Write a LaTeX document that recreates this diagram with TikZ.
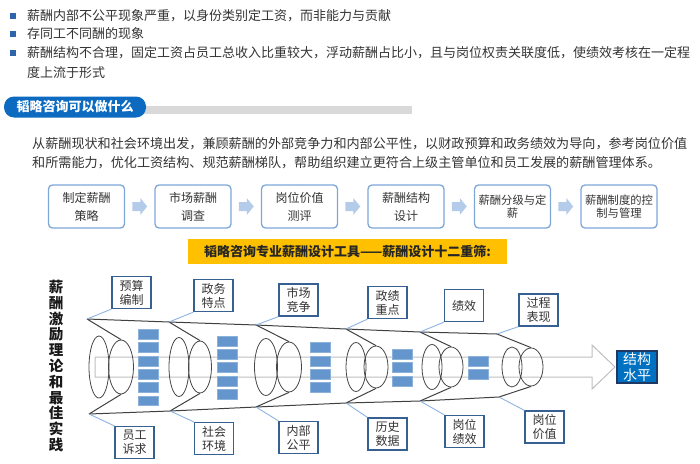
\documentclass[tikz,border=0pt]{standalone}
\usepackage{fontspec}
\setmainfont{Noto Sans CJK SC}
\usetikzlibrary{calc,shapes.geometric}
\definecolor{txtgray}{RGB}{51,51,51}
\definecolor{bulblue}{RGB}{46,100,170}
\definecolor{capblue}{RGB}{12,106,192}
\definecolor{barGray}{RGB}{217,217,217}
\definecolor{pborder}{RGB}{126,166,216}
\definecolor{parrow}{RGB}{180,203,234}
\definecolor{banner}{RGB}{255,192,0}
\definecolor{funnel}{RGB}{64,64,64}
\definecolor{ellc}{RGB}{70,70,70}
\definecolor{arrgray}{RGB}{191,191,191}
\definecolor{blkfill}{RGB}{100,150,205}
\definecolor{blkdraw}{RGB}{140,178,220}
\definecolor{lblue}{RGB}{55,96,146}
\definecolor{conn}{RGB}{141,179,226}
\definecolor{resfill}{RGB}{0,112,192}
\definecolor{resdraw}{RGB}{31,56,100}
\begin{document}
\begin{tikzpicture}[x=1pt,y=-1pt,
  bul/.style={fill=bulblue,minimum size=5.5pt,inner sep=0pt},
  ltxt/.style={anchor=west,inner sep=0pt,text=txtgray,font=\fontsize{13.0}{16}\selectfont},
  ptxt/.style={anchor=west,inner sep=0pt,text=txtgray,font=\fontsize{13.1}{16}\selectfont},
  pbox/.style={draw=pborder,line width=1.3pt,rounded corners=4pt,minimum width=76pt,minimum height=43pt,inner sep=0pt,align=center,text=txtgray,font=\fontsize{12}{18}\selectfont},
  pboxb/.style={pbox,font=\fontsize{11.3}{12.5}\selectfont},
  ell/.style={ellipse,draw=ellc,line width=0.8pt,inner sep=0pt},
  fline/.style={draw=funnel,line width=1pt},
  blk/.style={fill=blkfill,draw=blkdraw,line width=0.4pt,minimum width=20pt,minimum height=9.8pt,inner sep=0pt},
  lbl/.style={draw=lblue,line width=1.3pt,fill=white,minimum width=39pt,minimum height=32pt,inner sep=0pt,align=center,text=txtgray,font=\fontsize{12}{14}\selectfont},
  cline/.style={draw=conn,line width=0.9pt}]
\useasboundingbox (0,0) rectangle (700,463);

% bullets
\node[bul] (b1) at (13,16) {};
\node[bul] (b2) at (13,34) {};
\node[bul] (b3) at (13,53) {};
\node[ltxt] (t1) at (27,16) {薪酬内部不公平现象严重，以身份类别定工资，而非能力与贡献};
\node[ltxt] (t2) at (27,34) {存同工不同酬的现象};
\node[ltxt] (t3) at (27,53) {薪酬结构不合理，固定工资占员工总收入比重较大，浮动薪酬占比小，且与岗位权责关联度低，使绩效考核在一定程};
\node[ltxt] (t4) at (27,73) {度上流于形式};

% heading capsule
\fill[barGray] (140,105.5) rectangle (412,113.5);
\node[fill=capblue,rounded corners=10pt,minimum width=142pt,minimum height=21pt,inner sep=0pt,text=white,font=\fontsize{13}{15}\selectfont\bfseries] (cap) at (75,107) {韬略咨询可以做什么};

% paragraph
\node[ptxt] (pa1) at (32,144) {从薪酬现状和社会环境出发，兼顾薪酬的外部竞争力和内部公平性，以财政预算和政务绩效为导向，参考岗位价值};
\node[ptxt] (pa2) at (32,163) {和所需能力，优化工资结构、规范薪酬梯队，帮助组织建立更符合上级主管单位和员工发展的薪酬管理体系。};

% process boxes
\node[pbox] (p1) at (86.5,206.5) {制定薪酬\\策略};
\node[pbox] (p2) at (193,206.5) {市场薪酬\\调查};
\node[pbox] (p3) at (299.5,206.5) {岗位价值\\测评};
\node[pbox] (p4) at (406,206.5) {薪酬结构\\设计};
\node[pboxb] (p5) at (512.5,206.5) {薪酬分级与定\\薪};
\node[pboxb] (p6) at (619,206.5) {薪酬制度的控\\制与管理};
\foreach \a/\b in {p1/p2,p2/p3,p3/p4,p4/p5,p5/p6}{
  \coordinate (m\a) at ($(\a.east)!0.5!(\b.west)$);
  \fill[parrow] ($(m\a)+(-7.5,-4.5)$) -- ($(m\a)+(0.5,-4.5)$) -- ($(m\a)+(0.5,-8.5)$) -- ($(m\a)+(7.5,0)$) -- ($(m\a)+(0.5,8.5)$) -- ($(m\a)+(0.5,4.5)$) -- ($(m\a)+(-7.5,4.5)$) -- cycle;
}

% banner
\node[fill=banner,minimum width=319pt,minimum height=25pt,inner sep=0pt,text=black!85,font=\fontsize{13}{15}\selectfont\bfseries] (ban) at (347.5,251.5) {韬略咨询专业薪酬设计工具——薪酬设计十二重筛:};

% vertical text
\node[inner sep=0pt,align=center,text=black!90,font=\fontsize{14.5}{15.8}\selectfont\bfseries] (vt) at (56,366) {薪\\酬\\激\\励\\理\\论\\和\\最\\佳\\实\\践};

% big arrow
\draw[arrgray,line width=1pt] (95,357) -- (592,357) -- (592,345) -- (615,367) -- (592,389) -- (592,377) -- (95,377) -- cycle;

% stages
\foreach \s/\tx/\ty/\bx/\by/\ax/\aw/\ah/\cx/\cw/\ch in {
  1/87/319/89/414/99/20/62/121/25/54,
  2/169/322/170/411/179/20/59/200/23/52,
  3/256/325/256/407/266/23/57/289/25/50,
  4/346/329/346/403/356/20/49/376/24/42,
  5/420/332/420/401/432/20/45/451/24/40,
  6/497/334/499/397/512/20/40/531/24/38}{
  \coordinate (T\s) at (\tx,\ty);
  \coordinate (B\s) at (\bx,\by);
  \node[ell,minimum width=\aw pt,minimum height=\ah pt] (ea\s) at (\ax,367) {};
  \node[ell,minimum width=\cw pt,minimum height=\ch pt] (eb\s) at (\cx,367) {};
  \draw[fline] (T\s) -- (eb\s.north);
  \draw[fline] (B\s) -- (eb\s.south);
}
\draw[fline] (T1) -- (T2) -- (T3) -- (T4) -- (T5) -- (T6);
\draw[fline] (B1) -- (B2) -- (B3) -- (B4) -- (B5) -- (B6);

% blue blocks
\foreach \cx/\n [count=\s] in {148.5/6, 227/5, 320/4, 402.5/3, 478.5/2}{
  \foreach \k in {1,...,\n}{
    \pgfmathsetmacro\cy{367.5+(\k-1-(\n-1)/2)*13.3}
    \node[blk] (blk\s-\k) at (\cx,\cy) {};
  }
}

% labels
\node[lbl] (lt1) at (131.5,292.5) {预算\\编制};
\node[lbl] (lt2) at (213.5,295.5) {政务\\特点};
\node[lbl] (lt3) at (298.5,300) {市场\\竞争};
\node[lbl] (lt4) at (387.5,302.5) {政绩\\重点};
\node[lbl] (lt5) at (464,305.5) {绩效};
\node[lbl] (lt6) at (538.5,310) {过程\\表现};
\node[lbl] (lb1) at (134.5,442.5) {员工\\诉求};
\node[lbl] (lb2) at (214,438.5) {社会\\环境};
\node[lbl] (lb3) at (298.5,437.5) {内部\\公平};
\node[lbl] (lb4) at (387.5,434) {历史\\数据};
\node[lbl] (lb5) at (464.5,431.5) {岗位\\绩效};
\node[lbl] (lb6) at (544.5,427) {岗位\\价值};
\foreach \s in {1,...,6}{
  \draw[cline] (T\s) -- (lt\s.south west);
  \draw[cline] (B\s) -- (lb\s.north west);
}

% result
\node[fill=resfill,draw=resdraw,line width=1.5pt,minimum width=40pt,minimum height=32pt,inner sep=0pt,align=center,text=white,font=\fontsize{14}{16}\selectfont] (res) at (637,367) {结构\\水平};
\end{tikzpicture}
\end{document}
